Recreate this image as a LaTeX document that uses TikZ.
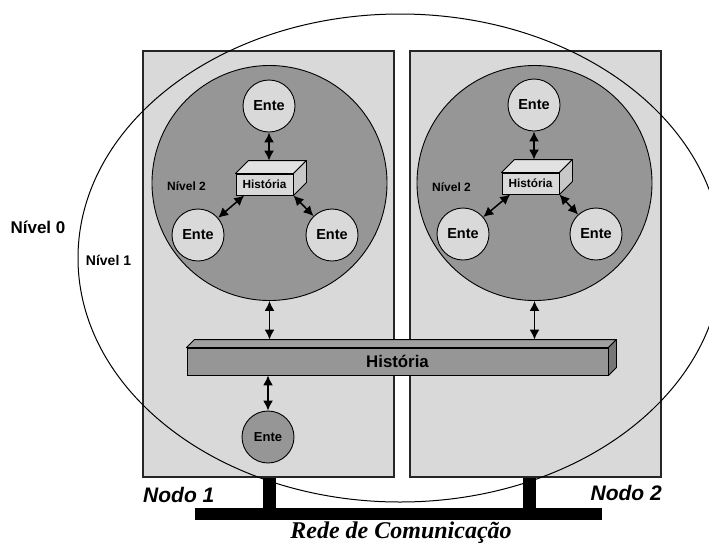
\documentclass[tikz,border=0pt]{standalone}
\usepackage{fontspec}
\setmainfont{Liberation Sans}
\newfontfamily\serifbi{Liberation Serif}
\usetikzlibrary{arrows.meta,calc,shapes.geometric}
\definecolor{paneGray}{RGB}{217,217,217}
\definecolor{coreGray}{RGB}{150,150,150}
\definecolor{boxTop}{RGB}{226,226,226}
\definecolor{boxSide}{RGB}{200,200,200}
\definecolor{barTop}{RGB}{160,160,160}
\definecolor{barSide}{RGB}{118,118,118}
\newcommand{\fs}[1]{\fontsize{#1}{#1}\selectfont}
\begin{document}
\begin{tikzpicture}[x=1pt,y=-1pt,
  nodebox/.style={draw=black!85, line width=1.2pt, fill=paneGray,
    minimum width=251pt, minimum height=426pt, inner sep=0pt},
  core/.style={circle, draw=black, line width=0.9pt, fill=coreGray,
    minimum size=235pt, inner sep=0pt},
  ente/.style={circle, draw=black, line width=0.9pt, fill=paneGray,
    minimum size=52pt, inner sep=0pt, font=\bfseries\fs{14.5}},
  histfront/.style={draw=black, line width=0.9pt, fill=paneGray,
    minimum width=57pt, minimum height=21pt, inner sep=0pt,
    font=\bfseries\fs{11.8}},
  face/.style={draw=black, line width=0.9pt, line join=round},
  dbl/.style={{Latex[length=10pt,width=10pt]}-{Latex[length=10pt,width=10pt]},
    line width=1.5pt},
  lbl/.style={font=\bfseries\fs{12}, inner sep=0pt},
  nodolbl/.style={font=\bfseries\itshape\fs{21}, inner sep=0pt},
  stub/.style={line width=12.5pt}
]
\useasboundingbox (0,0) rectangle (709,544);

% the two computing nodes
\node[nodebox] (n1) at (268.5,264) {};
\node[nodebox] (n2) at (535.5,264) {};

% level-2 cores
\node[core] (c1) at (269.5,183) {};
\node[core] (c2) at (534.5,183) {};

% local histories (3D boxes)
\node[histfront] (h1) at (264.5,184.5) {História};
\draw[face, fill=boxTop] (h1.north west) -- ++(13,-13) -- ($(h1.north east)+(13,-13)$) -- (h1.north east) -- cycle;
\draw[face, fill=boxSide] (h1.north east) -- ++(13,-13) -- ($(h1.south east)+(13,-13)$) -- (h1.south east) -- cycle;
\coordinate (h1back) at ($(h1.north)+(6.5,-13)$);
\coordinate (h1l) at ($(h1.south west)!0.15!(h1.south east)$);

\node[histfront] (h2) at (530.5,183.5) {História};
\draw[face, fill=boxTop] (h2.north west) -- ++(13,-13) -- ($(h2.north east)+(13,-13)$) -- (h2.north east) -- cycle;
\draw[face, fill=boxSide] (h2.north east) -- ++(13,-13) -- ($(h2.south east)+(13,-13)$) -- (h2.south east) -- cycle;
\coordinate (h2back) at ($(h2.north)+(6.5,-13)$);
\coordinate (h2l) at ($(h2.south west)!0.15!(h2.south east)$);

% entities of node 1
\node[ente] (e1t) at (269,106) {Ente};
\node[ente] (e1l) at (198,235) {Ente};
\node[ente] (e1r) at (332,235) {Ente};
% entities of node 2
\node[ente] (e2t) at (534,105) {Ente};
\node[ente] (e2l) at (463,234) {Ente};
\node[ente] (e2r) at (596,234) {Ente};

\draw[dbl] (e1t.south) -- (e1t.south |- h1back);
\draw[dbl] (e1l) -- (h1l);
\draw[dbl] (h1.south east) -- (e1r);
\draw[dbl] (e2t.south) -- (e2t.south |- h2back);
\draw[dbl] (e2l) -- (h2l);
\draw[dbl] (h2.south east) -- (e2r);

\node[lbl] (lv2a) at (186.5,186) {Nível 2};
\node[lbl] (lv2b) at (451.5,187) {Nível 2};

% shared history bar
\node[draw=black, line width=0.9pt, fill=coreGray, minimum width=421pt,
  minimum height=27pt, inner sep=0pt, font=\bfseries\fs{16.8}] (bar) at (397.5,361.5) {História};
\draw[face, fill=barTop] (bar.north west) -- ++(8,-8) -- ($(bar.north east)+(8,-8)$) -- (bar.north east) -- cycle;
\draw[face, fill=barSide] (bar.north east) -- ++(8,-8) -- ($(bar.south east)+(8,-8)$) -- (bar.south east) -- cycle;
\coordinate (barback) at ($(bar.north)+(0,-8)$);

% entity outside level 2
\node[ente, fill=coreGray, font=\bfseries\fs{13}] (eb) at (268,437) {Ente};

\draw[dbl] (c1.south) -- (c1.south |- barback);
\draw[dbl] (c2.south) -- (c2.south |- barback);
\draw[dbl] (eb.north |- bar.south) -- (eb.north);

% level 1 boundary
\node[draw=black, line width=1pt, ellipse, minimum width=644pt, minimum height=488pt,
  inner sep=0pt] (lv1ring) at (400,258) {};
\node[lbl, font=\bfseries\fs{14}] (lv1) at (108.5,260) {Nível 1};
\node[lbl, font=\bfseries\fs{17}] (lv0) at (38,227) {Nível 0};

% communication network
\node[fill=black, minimum width=407pt, minimum height=11.5pt, inner sep=0pt] (bus) at (398.5,514) {};
\coordinate (s1) at (269.5,0);
\coordinate (s2) at (529.5,0);
\draw[stub] (n1.south -| s1) -- (bus.north -| s1);
\draw[stub] (n2.south -| s2) -- (bus.north -| s2);

\node[nodolbl, anchor=base west] (nd1) at (143,502) {Nodo 1};
\node[nodolbl, anchor=base east] (nd2) at (662,500) {Nodo 2};
\node[inner sep=0pt, anchor=base, font=\serifbi\bfseries\itshape\fs{24}] (net) at (401,538) {Rede de Comunicação};
\end{tikzpicture}
\end{document}
